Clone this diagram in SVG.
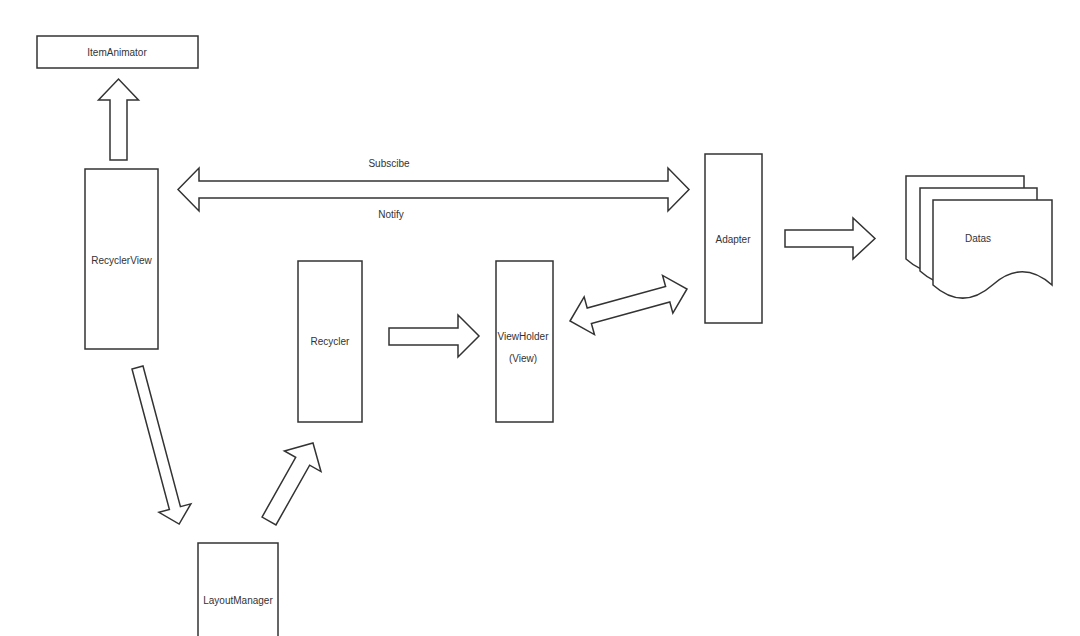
<svg xmlns="http://www.w3.org/2000/svg" width="1080" height="636" viewBox="0 0 1080 636">
<style>
.box{fill:#fff;stroke:#333;stroke-width:1.5}
.arr{fill:#fff;stroke:#333;stroke-width:1.5;stroke-linejoin:miter}
.t{font-family:"Liberation Sans",Arial,sans-serif;font-size:10px;fill:#333;text-anchor:middle}
</style>
<rect width="1080" height="636" fill="#fff"/>
<g id="connectors">
<path class="arr" d="M110,160 V100 H98.5 L118.5,79 L138.5,100 H127 V160 Z"/>
<path class="arr" d="M178,189.5 L199,168 V181 H668 V168 L689,189.5 L668,211 V198 H199 V211 Z"/>
<path class="arr" d="M785,230 H853 V218 L875,238.5 L853,259 V247 H785 Z"/>
<path class="arr" d="M389,328 H458 V315 L479,336 L458,357 V345 H389 Z"/>
<path class="arr" transform="translate(628.5,305) rotate(-15.3)" d="M-60.65,0 L-40.65,-19.5 L-40.65,-8 L40.65,-8 L40.65,-19.5 L60.65,0 L40.65,19.5 L40.65,8 L-40.65,8 L-40.65,19.5 Z"/>
<path class="arr" transform="translate(137.5,367.5) rotate(75.1)" d="M0,-5.7 L145.5,-5.7 L145.5,-16.5 L162,0 L145.5,16.5 L145.5,5.7 L0,5.7 Z"/>
<path class="arr" transform="translate(269,521) rotate(-60.6)" d="M0,-8 L68.6,-8 L68.6,-21 L89.6,0 L68.6,21 L68.6,8 L0,8 Z"/>
<text class="t" x="389" y="166.5">Subscibe</text>
<text class="t" x="391" y="218">Notify</text>
</g>
<g id="itemanimator">
<rect class="box" x="37" y="36" width="161" height="32"/>
<text class="t" x="117" y="55.5">ItemAnimator</text>
</g>
<g id="recyclerview">
<rect class="box" x="85" y="169" width="73" height="180"/>
<text class="t" x="121.5" y="263.5">RecyclerView</text>
</g>
<g id="recycler">
<rect class="box" x="298" y="261" width="64" height="161"/>
<text class="t" x="330" y="344.5">Recycler</text>
</g>
<g id="viewholder">
<rect class="box" x="496" y="261" width="57" height="161"/>
<text class="t" x="523" y="339.5">ViewHolder</text>
<text class="t" x="523" y="362">(View)</text>
</g>
<g id="adapter">
<rect class="box" x="705" y="154" width="57" height="169"/>
<text class="t" x="733" y="243">Adapter</text>
</g>
<g id="layoutmanager">
<rect class="box" x="198" y="543" width="80" height="110"/>
<text class="t" x="238" y="603.5">LayoutManager</text>
</g>
<g id="datas">
<path class="box" d="M906,176 H1024 V259 Q994.5,232.6 965,259 Q935.5,285.3 906,259 Z"/>
<path class="box" d="M920,188 H1037 V271 Q1007.75,244.6 978.5,271 Q949.25,297.3 920,271 Z"/>
<path class="box" d="M933,200 H1052 V285 Q1022.25,258.6 992.5,285 Q962.75,311.3 933,285 Z"/>
<text class="t" x="978" y="241.5">Datas</text>
</g>
</svg>
